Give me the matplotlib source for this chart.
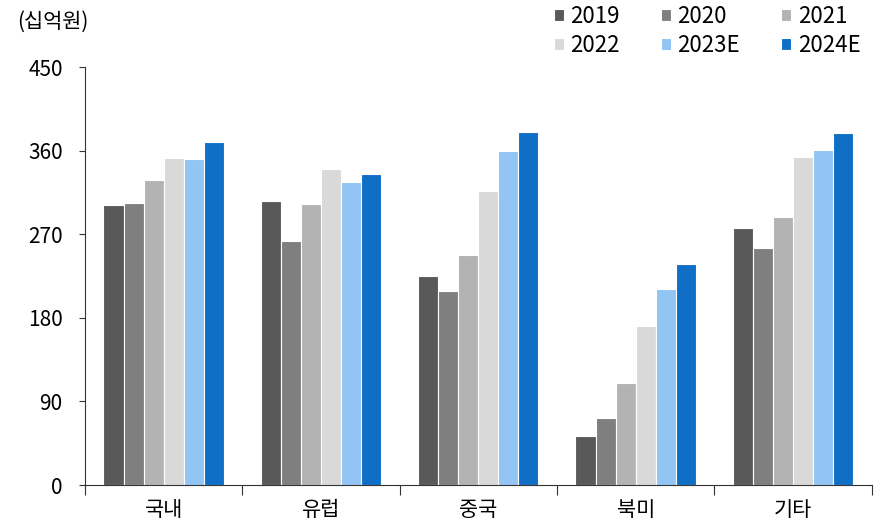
import numpy as np
import matplotlib
matplotlib.use("Agg")
import matplotlib.pyplot as plt

plt.rcParams['font.family'] = ['Noto Sans CJK KR', 'DejaVu Sans']

regions = ['국내', '유럽', '중국', '북미', '기타']
years = ['2019', '2020', '2021', '2022', '2023E', '2024E']
colors = ['#595959', '#7f7f7f', '#b3b3b3', '#d9d9d9', '#92c4f4', '#0f6fc6']

v2019 = [302, 306, 225, 53, 277]
v2020 = [304, 263, 209, 72, 255]
v2021 = [329, 303, 248, 110, 289]
v2022 = [352, 340, 317, 171, 353]
v2023 = [351, 326, 360, 211, 361]
v2024 = [369, 335, 380, 238, 379]
series = [v2019, v2020, v2021, v2022, v2023, v2024]

fig = plt.figure(figsize=(8.76, 5.21), dpi=100)
ax = fig.add_axes([0.097, 0.069, 0.898, 0.802])

x = np.arange(len(regions))
w = 0.765 / len(years)
for i, (vals, c, lab) in enumerate(zip(series, colors, years)):
    ax.bar(x + (i - 2.5) * w, vals, width=w, color=c, edgecolor='white',
           linewidth=0.8, label=lab)

ax.set_xlim(-0.5, len(regions) - 0.5)
ax.set_ylim(0, 450)
ax.set_yticks(np.arange(0, 451, 90))
ax.tick_params(axis='y', labelsize=15, length=4, color='#333333', pad=12)

# category labels centred, tick marks on the group boundaries
ax.set_xticks(np.arange(-0.5, len(regions), 1.0))
ax.set_xticklabels([])
ax.set_xticks(x, minor=True)
ax.set_xticklabels(regions, minor=True, fontsize=15)
ax.tick_params(axis='x', which='major', length=7, color='#333333')
ax.tick_params(axis='x', which='minor', length=0, pad=10)

for s in ['top', 'right']:
    ax.spines[s].set_visible(False)
ax.spines['left'].set_color('#333333')
ax.spines['bottom'].set_color('#333333')

fig.text(0.02, 0.958, '(십억원)', fontsize=15, va='center', ha='left')

# legend reads row by row: 2019 2020 2021 / 2022 2023E 2024E
handles, labels = ax.get_legend_handles_labels()
order = [0, 3, 1, 4, 2, 5]
fig.legend([handles[k] for k in order], [labels[k] for k in order], ncol=3,
           loc='upper left', bbox_to_anchor=(0.632, 0.991), borderaxespad=0,
           borderpad=0, frameon=False, fontsize=16, handlelength=0.45,
           handleheight=0.45, handletextpad=0.3, columnspacing=1.85,
           labelspacing=0.3)

fig.savefig('out.png', dpi=100)
